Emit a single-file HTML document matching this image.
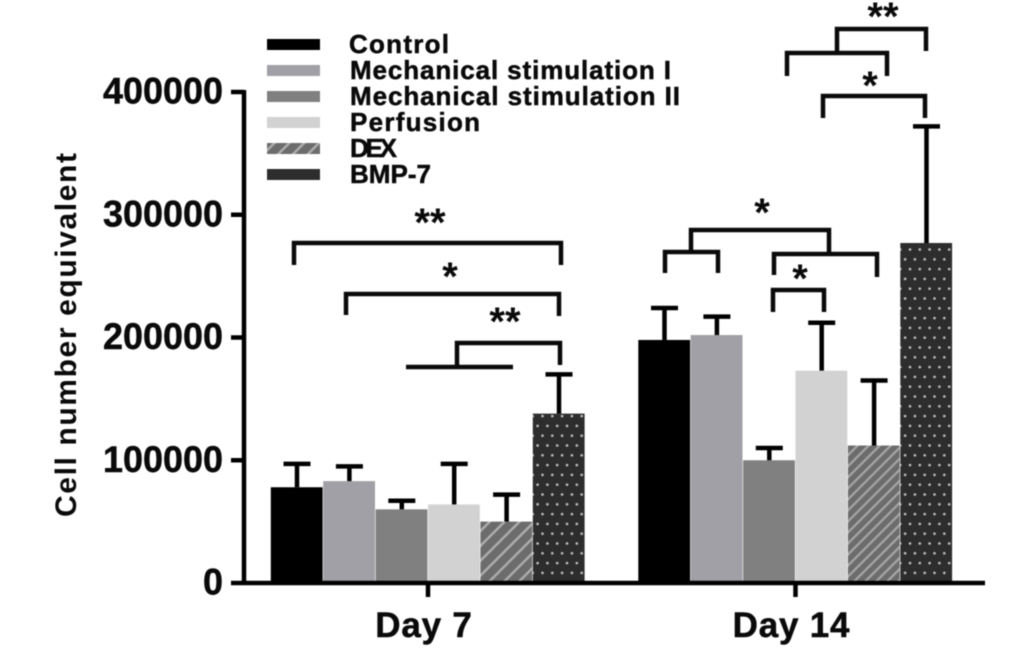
<!DOCTYPE html>
<html lang="en">
<head>
<meta charset="utf-8">
<title>Cell number equivalent chart</title>
<style>
html,body{margin:0;padding:0;background:#fff;width:1033px;height:648px;overflow:hidden}
svg{display:block;filter:blur(0.4px)}
text{font-family:"Liberation Sans",Arial,sans-serif;font-weight:bold;fill:#0a0a0a}
.heavy{stroke:#0a0a0a;stroke-width:0.5px}
</style>
</head>
<body>
<svg id="chart" width="1033" height="648" viewBox="0 0 1033 648" xmlns="http://www.w3.org/2000/svg">
<defs>
<pattern id="hatch" width="10.5" height="10.5" patternUnits="userSpaceOnUse" patternTransform="rotate(45)">
<rect width="10.5" height="10.5" fill="#6c6c6c"/>
<rect x="0" width="2.4" height="10.5" fill="#adadad"/>
</pattern>
<pattern id="hatch-dense" width="7.8" height="7.8" patternUnits="userSpaceOnUse" patternTransform="rotate(45)">
<rect width="7.8" height="7.8" fill="#6c6c6c"/>
<rect x="0" width="2.2" height="7.8" fill="#a6a6a6"/>
</pattern>
<pattern id="dots" width="9.8" height="19.6" patternUnits="userSpaceOnUse" x="1" y="2">
<rect width="9.8" height="19.6" fill="#2d2d2d"/>
<circle cx="2.5" cy="2.5" r="1.3" fill="#c8c8c8"/>
<circle cx="7.4" cy="12.3" r="1.3" fill="#c8c8c8"/>
</pattern>
</defs>
<g id="bars"></g>
<g id="errors"></g>
<g id="axes"></g>

<g>
<rect x="267" y="39" width="53" height="11" fill="#000"/>
<text class="heavy" x="349" y="53" font-size="26" textLength="100" lengthAdjust="spacing">Control</text>
<rect x="267" y="65" width="53" height="11" fill="#a0a0a6"/>
<text class="heavy" x="350" y="79" font-size="26" textLength="321" lengthAdjust="spacing">Mechanical stimulation I</text>
<rect x="267" y="91" width="53" height="11" fill="#808080"/>
<text class="heavy" x="350" y="105" font-size="26" textLength="330" lengthAdjust="spacing">Mechanical stimulation II</text>
<rect x="267" y="117" width="53" height="11" fill="#d2d2d2"/>
<text class="heavy" x="350" y="131" font-size="26" textLength="130" lengthAdjust="spacing">Perfusion</text>
<rect x="267" y="143" width="53" height="11" fill="url(#hatch)"/>
<text class="heavy" x="350" y="157" font-size="26" textLength="47" lengthAdjust="spacing">DEX</text>
<rect x="267" y="169" width="53" height="11" fill="#2d2d2d"/>
<text class="heavy" x="350" y="183" font-size="26" textLength="81" lengthAdjust="spacingAndGlyphs">BMP-7</text>
</g>

<g fill="none" stroke="#0a0a0a" stroke-width="4.5">
<path d="M294 265V243H561V265"/>
<path d="M346 315V294H559V316"/>
<path d="M406 367H513M457 367V343H560V365"/>
<path d="M665 273V252H718V273M691 252V230H829V254M774 275V254H877V277"/>
<path d="M773 312V290H824V312"/>
<path d="M787 76V53H887V76M837 53V29H926V51"/>
<path d="M823 118V96H925V118"/>
</g>
<g font-size="40" text-anchor="middle">
<text x="430" y="236">**</text>
<text x="450" y="290">*</text>
<text x="505" y="335">**</text>
<text x="762" y="226">*</text>
<text x="800" y="292">*</text>
<text x="883" y="30">**</text>
<text x="870" y="99">*</text>
</g>
<text font-size="30" text-anchor="middle" textLength="364" lengthAdjust="spacing" transform="translate(76,335) rotate(-90)" x="0" y="0">Cell number equivalent</text>
</svg>
<script>
var categories = ['Day 7', 'Day 14'];
var seriesNames = ['Control', 'Mechanical stimulation I', 'Mechanical stimulation II', 'Perfusion', 'DEX', 'BMP-7'];
var seriesFills = [
  ['#000000', '#a0a0a6', '#808080', '#d2d2d2', 'url(#hatch)', 'url(#dots)'],
  ['#000000', '#a0a0a6', '#808080', '#d2d2d2', 'url(#hatch-dense)', 'url(#dots)']
];
var means = [
  [78000, 83000, 60000, 64000, 50000, 138000],
  [198000, 202000, 100000, 173000, 112000, 277000]
];
var upperErrors = [
  [97000, 95000, 67000, 97000, 72000, 170000],
  [224000, 217000, 110000, 212000, 165000, 372000]
];
var yTicks = [0, 100000, 200000, 300000, 400000];
var yTickLabels = ['0', '100000', '200000', '300000', '400000'];

var NS = 'http://www.w3.org/2000/svg';
function yScale(v) { return 583 - v * 0.0012275; }
function groupCenter(g) { return 428 + g * 367.5; }
var barW = 52.4;
function barLeft(g, s) { return groupCenter(g) + (s - seriesNames.length / 2) * barW; }
function make(tag, attrs, parent) {
  var el = document.createElementNS(NS, tag);
  for (var k in attrs) el.setAttribute(k, attrs[k]);
  parent.appendChild(el);
  return el;
}
var barsG = document.getElementById('bars');
var errG = document.getElementById('errors');
var axesG = document.getElementById('axes');

categories.forEach(function (cat, g) {
  seriesNames.forEach(function (name, s) {
    var x = barLeft(g, s), cx = x + barW / 2;
    var top = yScale(means[g][s]), et = yScale(upperErrors[g][s]);
    var bar = make('rect', { x: x, y: top, width: barW - 0.6, height: yScale(0) - top, fill: seriesFills[g][s] }, barsG);
    
    
    var stem = make('line', { x1: cx, x2: cx, y1: top, y2: et, stroke: '#000', 'stroke-width': 4.5 }, errG);
    
    
    var cap = make('line', { x1: cx - 13.5, x2: cx + 13.5, y1: et, y2: et, stroke: '#000', 'stroke-width': 4.5 }, errG);
    
    
  });
  var tick = make('line', { x1: groupCenter(g), x2: groupCenter(g), y1: yScale(0), y2: 597, stroke: '#000', 'stroke-width': 4.5 }, axesG);
  
  
  var lab = make('text', { x: groupCenter(g) - 4, y: 637, 'font-size': 35, 'text-anchor': 'middle', 'letter-spacing': 0.8, 'class': 'heavy' }, axesG);
  
  
  lab.textContent = cat;
});

yTicks.forEach(function (v, i) {
  var y = yScale(v);
  var t = make('line', { x1: 231, x2: 244, y1: y, y2: y, stroke: '#000', 'stroke-width': 4.5 }, axesG);
  
  
  var l = make('text', { x: 223, y: y + 11.5, 'font-size': 37, 'text-anchor': 'end', 'class': 'heavy' }, axesG);
  
  
  l.setAttribute('textLength', 20 * yTickLabels[i].length);
  l.setAttribute('lengthAdjust', 'spacingAndGlyphs');
  l.textContent = yTickLabels[i];
});

var yAxis = make('line', { x1: 244, x2: 244, y1: yScale(400000) - 2, y2: yScale(0) + 2, stroke: '#000', 'stroke-width': 4.5 }, axesG);


var xAxis = make('line', { x1: 244, x2: 985, y1: yScale(0), y2: yScale(0), stroke: '#000', 'stroke-width': 4.5 }, axesG);


</script>
</body>
</html>
